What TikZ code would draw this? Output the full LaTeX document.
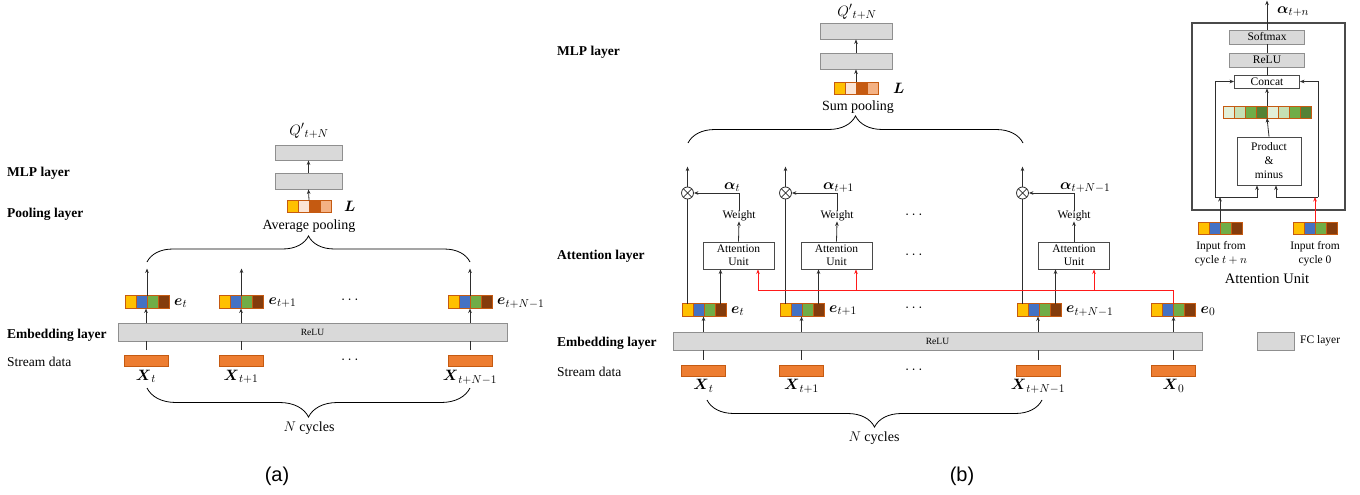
\RequirePackage{fix-cm}
\documentclass[tikz,border=0pt]{standalone}
\usepackage{amsmath}
\usepackage{fontspec}
\setmainfont{Liberation Serif}
\newfontfamily\capfont{Liberation Sans}
\usetikzlibrary{arrows.meta,calc,decorations.pathreplacing}
\DeclareMathSizes{15}{15}{11.5}{9}

\definecolor{fcfill}{HTML}{D9D9D9}
\definecolor{fcdraw}{HTML}{8F8F8F}
\definecolor{xfill}{HTML}{ED7D31}
\definecolor{xdraw}{HTML}{C55A11}
\definecolor{cy}{HTML}{FFC000}
\definecolor{cb}{HTML}{4472C4}
\definecolor{cg}{HTML}{70AD47}
\definecolor{cr}{HTML}{843C0C}
\definecolor{lp}{HTML}{FBE5D6}
\definecolor{ld}{HTML}{C55A11}
\definecolor{lo}{HTML}{F4B183}
\definecolor{g1}{HTML}{E2F0D9}
\definecolor{g2}{HTML}{C5E0B4}
\definecolor{g3}{HTML}{70AD47}
\definecolor{g4}{HTML}{548235}
\definecolor{lnk}{HTML}{2E2E2E}
\definecolor{boxln}{HTML}{4A4A4A}
\definecolor{redlnk}{HTML}{FF1A1A}

\tikzset{
  fc/.style={draw=fcdraw, fill=fcfill, line width=0.9pt, inner sep=0pt},
  xbox/.style={draw=xdraw, fill=xfill, line width=0.7pt, minimum width=44pt, minimum height=11pt, inner sep=0pt},
  wbox/.style={draw=boxln, fill=white, line width=0.9pt, inner sep=0pt},
  arr/.style={draw=lnk, line width=0.8pt, -{Stealth[length=4.5pt,width=3.6pt]}},
  ln/.style={draw=lnk, line width=0.8pt},
  rarr/.style={draw=redlnk, line width=1pt, -{Stealth[length=4.5pt,width=3.6pt]}},
  brc/.style={draw=black, line width=0.8pt, decorate, decoration={brace, amplitude=#1}},
  layer/.style={font=\fontsize{13.5}{16}\selectfont\bfseries, anchor=west, inner sep=0pt},
  plain/.style={font=\fontsize{13.5}{16}\selectfont, inner sep=0pt},
  small/.style={font=\fontsize{11.5}{14}\selectfont, inner sep=0pt, align=center},
  tinyt/.style={font=\fontsize{9.5}{11}\selectfont},
  mlab/.style={font=\fontsize{14}{16}\selectfont, inner sep=0pt},
  mth/.style={font=\fontsize{15}{17}\selectfont, inner sep=0pt},
  figcap/.style={font=\capfont\fontsize{20}{24}\selectfont, inner sep=0pt},
  cell/.style={draw=xdraw, line width=0.7pt},
  otimes/.style={circle, draw=lnk, line width=0.8pt, minimum size=12pt, inner sep=0pt,
    path picture={\draw[lnk, line width=0.7pt]
      (path picture bounding box.north west) -- (path picture bounding box.south east)
      (path picture bounding box.north east) -- (path picture bounding box.south west);}},
}

% a row of coloured cells: name, centre, number of cells, colours, height
\newcommand\cellvec[5]{%
  \node[inner sep=0pt, outer sep=0pt, minimum width=#3*11pt, minimum height=#5pt] (#1) at #2 {};
  \foreach \c [count=\i from 0] in {#4}
    \filldraw[fill=\c, cell] ($(#1.north west)+(\i*11,0)$) rectangle ++(11,#5);
}

\begin{document}
\begin{tikzpicture}[x=1pt,y=-1pt]
\useasboundingbox (0,0) rectangle (1360,495);

%% ---------------- (a) average pooling model ----------------
\node[layer] at (7,173) {MLP layer};
\node[layer] at (7,214) {Pooling layer};
\node[layer] at (7,335) {Embedding layer};
\node[plain, anchor=west] at (7,362) {Stream data};

\node[fc, minimum width=67pt, minimum height=15pt] (ma1) at (308.5,152.5) {};
\node[fc, minimum width=67pt, minimum height=16pt] (ma2) at (308.5,181) {};
\node[mth] (qa) at (309,131) {$Q'{}_{t+N}$};
\cellvec{la}{(309,206.5)}{4}{cy,lp,ld,lo}{12}
\node[mth, anchor=west] (lla) at (344,206) {$\boldsymbol{L}$};
\node[mlab] (apool) at (309,226) {Average pooling};
\draw[arr] (la.north) -- (ma2.south);
\draw[arr] (ma2.north) -- (ma1.south);

\node[fc, minimum width=389pt, minimum height=18pt, tinyt] (ra) at (312.5,332) {ReLU};

\cellvec{ea1}{(147,302)}{4}{cy,cb,cg,cr}{13}
\cellvec{ea2}{(241.5,302)}{4}{cy,cb,cg,cr}{13}
\cellvec{ea3}{(470,302)}{4}{cy,cb,cg,cr}{13}
\node[mth, anchor=west] at ($(ea1.east)+(5,1)$) {$\boldsymbol{e}_t$};
\node[mth, anchor=west] at ($(ea2.east)+(5,1)$) {$\boldsymbol{e}_{t+1}$};
\node[mth, anchor=west] at ($(ea3.east)+(5,1)$) {$\boldsymbol{e}_{t+N-1}$};

\node[xbox] (xa1) at (146,361) {};
\node[xbox] (xa2) at (241,361) {};
\node[xbox] (xa3) at (470,361) {};
\node[mth, anchor=north] at ($(xa1.south)+(0,3)$) {$\boldsymbol{X}_t$};
\node[mth, anchor=north] at ($(xa2.south)+(0,3)$) {$\boldsymbol{X}_{t+1}$};
\node[mth, anchor=north] at ($(xa3.south)+(0,3)$) {$\boldsymbol{X}_{t+N-1}$};

\node[mth] at (351,300) {$\cdots$};
\node[mth] at (351,360) {$\cdots$};

\foreach \k in {1,2,3} {
  \draw[ln, shorten <=5pt] (xa\k.north) -- (xa\k.north |- ra.south);
  \draw[arr] (xa\k.north |- ra.north) -- (xa\k.north |- ea\k.south);
  \draw[arr] (ea\k.north) -- ++(0,-27);
}

\draw[brc=26pt] (147,262) -- (470,262);
\draw[brc=29pt] (470,388) -- (147,388);
\node[mlab] at (309,428) {$N$ cycles};
\node[figcap] at (277,476) {(a)};

%% ---------------- (b) attention model ----------------
\node[layer] at (557,52) {MLP layer};
\node[layer] at (557,256) {Attention layer};
\node[layer] at (557,343) {Embedding layer};
\node[plain, anchor=west] at (557,372) {Stream data};

\node[fc, minimum width=72pt, minimum height=16pt] (mb1) at (856,31) {};
\node[fc, minimum width=72pt, minimum height=16pt] (mb2) at (856,61) {};
\node[mth] (qb) at (857,12) {$Q'{}_{t+N}$};
\cellvec{lb}{(856,88)}{4}{cy,lp,ld,lo}{12}
\node[mth, anchor=west] (llb) at (893,88) {$\boldsymbol{L}$};
\node[mlab] (spool) at (858,107) {Sum pooling};
\draw[arr] (lb.north) -- (mb2.south);
\draw[arr] (mb2.north) -- (mb1.south);

\draw[brc=27pt] (688,143) -- (1023,143);

\node[fc, minimum width=529pt, minimum height=18pt, tinyt] (rb) at (937.5,341) {ReLU};

\cellvec{eb1}{(704,310)}{4}{cy,cb,cg,cr}{13}
\cellvec{eb2}{(802,310)}{4}{cy,cb,cg,cr}{13}
\cellvec{eb3}{(1039,310)}{4}{cy,cb,cg,cr}{13}
\cellvec{eb0}{(1173.5,310)}{4}{cy,cb,cg,cr}{13}
\node[mth, anchor=west] at ($(eb1.east)+(5,1)$) {$\boldsymbol{e}_t$};
\node[mth, anchor=west] at ($(eb2.east)+(5,1)$) {$\boldsymbol{e}_{t+1}$};
\node[mth, anchor=west] at ($(eb3.east)+(5,1)$) {$\boldsymbol{e}_{t+N-1}$};
\node[mth, anchor=west] at ($(eb0.east)+(5,1)$) {$\boldsymbol{e}_0$};

\node[xbox] (xb1) at (703.5,370.5) {};
\node[xbox] (xb2) at (801.5,370.5) {};
\node[xbox] (xb3) at (1038,370.5) {};
\node[xbox] (xb0) at (1173.5,370.5) {};
\node[mth, anchor=north] at ($(xb1.south)+(0,3)$) {$\boldsymbol{X}_t$};
\node[mth, anchor=north] at ($(xb2.south)+(0,3)$) {$\boldsymbol{X}_{t+1}$};
\node[mth, anchor=north] at ($(xb3.south)+(0,3)$) {$\boldsymbol{X}_{t+N-1}$};
\node[mth, anchor=north] at ($(xb0.south)+(0,3)$) {$\boldsymbol{X}_0$};

\foreach \k in {1,2,3,0} {
  \draw[ln, shorten <=5pt] (xb\k.north) -- (xb\k.north |- rb.south);
  \draw[arr] (xb\k.north |- rb.north) -- (xb\k.north |- eb\k.south);
}

% attention units, weights and products
\node[wbox, minimum width=71pt, minimum height=27pt, small, font=\fontsize{11.5}{13}\selectfont] (au1) at (738.5,255.5) {Attention\\Unit};
\node[wbox, minimum width=71pt, minimum height=27pt, small, font=\fontsize{11.5}{13}\selectfont] (au2) at (836.5,255.5) {Attention\\Unit};
\node[wbox, minimum width=71pt, minimum height=27pt, small, font=\fontsize{11.5}{13}\selectfont] (au3) at (1074,255.5) {Attention\\Unit};

\node[small] (wt1) at (739,216) {Weight};
\node[small] (wt2) at (837,216) {Weight};
\node[small] (wt3) at (1074,216) {Weight};

\node[otimes] (ot1) at (687.5,193) {};
\node[otimes] (ot2) at (785.5,193) {};
\node[otimes] (ot3) at (1022.5,193) {};

\node[mth, anchor=base west] at (724,189) {$\boldsymbol{\alpha}_t$};
\node[mth, anchor=base west] at (823,189) {$\boldsymbol{\alpha}_{t+1}$};
\node[mth, anchor=base west] at (1060,189) {$\boldsymbol{\alpha}_{t+N-1}$};

\foreach \k in {1,2,3} {
  \coordinate (pa\k) at ([xshift=5.5pt]eb\k.north west);
  \coordinate (pb\k) at ([xshift=-5.5pt]eb\k.north east);
  \draw[ln] (pa\k) -- (ot\k.south);
  \draw[arr] (ot\k.north) -- ++(0,-20);
  \draw[arr] (pb\k) -- (pb\k |- au\k.south);
  \draw[arr] (au\k.north) -- (wt\k.south);
  \draw[arr] (wt\k.north) |- (ot\k.east);
}

% reference embedding e_0 fed to every attention unit
\coordinate (rb1) at (758,290.5);
\coordinate (rb2) at (856,290.5);
\coordinate (rb3) at (1094,290.5);
\draw[rarr] (eb0.north) |- (rb1) -- (rb1 |- au1.south);
\draw[rarr] (rb2) -- (rb2 |- au2.south);
\draw[rarr] (rb3) -- (rb3 |- au3.south);

\node[mth] at (915,215) {$\cdots$};
\node[mth] at (915,255) {$\cdots$};
\node[mth] at (915,308) {$\cdots$};
\node[mth] at (915,370) {$\cdots$};

\draw[brc=27pt] (1042,400) -- (707,400);
\node[mlab] at (874,438) {$N$ cycles};
\node[figcap] at (962,476) {(b)};

%% ---------------- attention unit detail ----------------
\node[draw=boxln, line width=1.2pt, minimum width=153pt, minimum height=187pt, inner sep=0pt] (auo) at (1268.5,116.5) {};
\node[fc, minimum width=75pt, minimum height=14pt, small] (sm) at (1267,37) {Softmax};
\node[fc, minimum width=75pt, minimum height=14pt, small] (rl) at (1267,60) {ReLU};
\node[wbox, minimum width=65pt, minimum height=13pt, small] (cc) at (1267,81.5) {Concat};
\cellvec{gv}{(1267,112)}{8}{g1,g2,g3,g4,g1,g2,g3,g4}{12}
\node[wbox, minimum width=64pt, minimum height=48pt, small] (pm) at (1269,161) {Product\\\&\\minus};
\cellvec{iv1}{(1220,228.5)}{4}{cy,cb,cg,cr}{12}
\cellvec{iv2}{(1315,228.5)}{4}{cy,cb,cg,cr}{12}

\draw[arr] (sm.north) -- ++(0,-29);
\node[mth, anchor=west] at (1277,12) {$\boldsymbol{\alpha}_{t+n}$};
\draw[ln] (rl.north) -- (sm.south);
\draw[ln] (cc.north) -- (rl.south);
\draw[arr] (gv.north) -- (cc.south);
\draw[arr] (pm.north) -- (gv.south);

\coordinate (jl) at (1215,197);
\coordinate (jr) at (1318,197);
\draw[arr] (jl) |- (cc.west);
\draw[arr] (jl) -| ([xshift=-12pt]pm.south);
\draw[arr] (jr) |- (cc.east);
\draw[arr] (jr) -| ([xshift=7pt]pm.south);
\draw[arr] (iv1.north) -- (iv1.north |- jl);
\draw[rarr] (iv2.north) -- (iv2.north |- jr);

\node[small] at (1221,254) {Input from\\cycle $t+n$};
\node[small] at (1315,254) {Input from\\cycle 0};
\node[font=\fontsize{14.5}{16}\selectfont, inner sep=0pt] at (1267,279) {Attention Unit};

% legend
\node[fc, minimum width=37pt, minimum height=18pt] (leg) at (1275.5,341) {};
\node[small, anchor=west] at (1300,341) {FC layer};

\end{tikzpicture}
\end{document}
